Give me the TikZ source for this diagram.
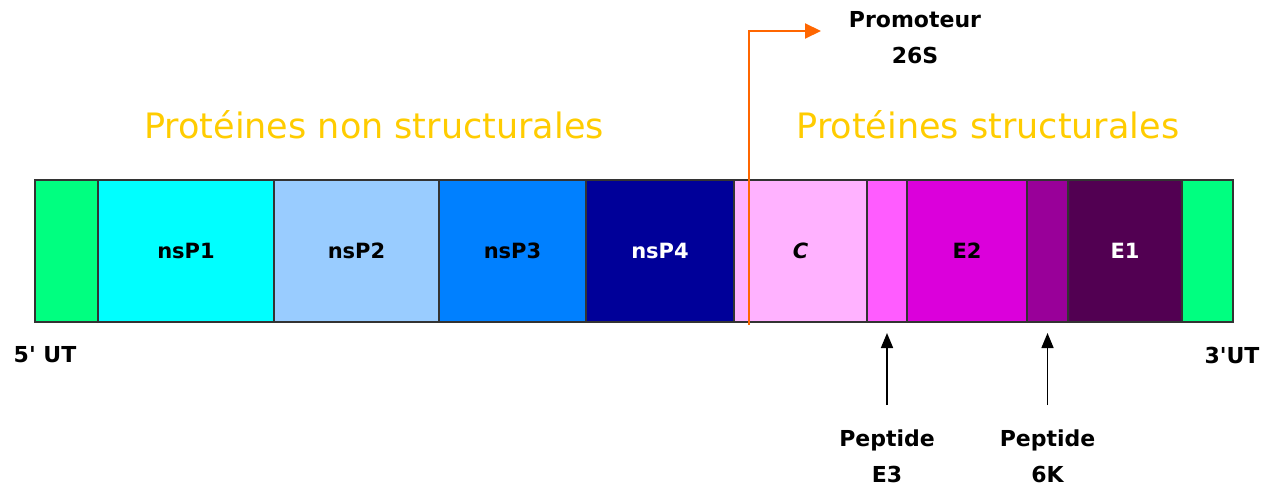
\documentclass[tikz,border=0pt]{standalone}
\usepackage{fontspec}
\setmainfont{DejaVu Sans}
\usetikzlibrary{positioning,arrows.meta}

\definecolor{utrgreen}{RGB}{0,255,128}
\definecolor{nsponecol}{RGB}{0,255,255}
\definecolor{nsptwocol}{RGB}{153,204,255}
\definecolor{nspthreecol}{RGB}{0,128,255}
\definecolor{nspfourcol}{RGB}{0,0,153}
\definecolor{capsidcol}{RGB}{255,178,255}
\definecolor{ethreecol}{RGB}{255,92,255}
\definecolor{etwocol}{RGB}{219,0,219}
\definecolor{sixkcol}{RGB}{153,0,153}
\definecolor{eonecol}{RGB}{82,0,82}
\definecolor{familycol}{RGB}{255,204,0}
\definecolor{promcol}{RGB}{255,102,0}

\begin{document}
\begin{tikzpicture}[x=1pt,y=-1pt,
   seg/.style={draw=black!80,line width=1.5pt,minimum height=142,
      inner sep=0pt,outer sep=0pt,
      font=\bfseries\fontsize{21}{24}\selectfont},
   family/.style={text=familycol,font=\fontsize{35}{40}\selectfont},
   tag/.style={font=\bfseries\fontsize{22}{36}\selectfont,align=center},
   pointer/.style={-{Triangle[length=15,width=12]},line width=1.6pt},
   promoter/.style={-{Triangle[length=16,width=15]},draw=promcol,
      line width=2pt}]

\useasboundingbox (0,0) rectangle (1277,495);

% genome bar
\node[seg,fill=utrgreen,minimum width=63,anchor=north west]
   (utr5) at (35,180) {};
\node[seg,fill=nsponecol,minimum width=176,right=0pt of utr5] (nsp1) {nsP1};
\node[seg,fill=nsptwocol,minimum width=165,right=0pt of nsp1] (nsp2) {nsP2};
\node[seg,fill=nspthreecol,minimum width=147,right=0pt of nsp2] (nsp3) {nsP3};
\node[seg,fill=nspfourcol,minimum width=148,text=white,right=0pt of nsp3]
   (nsp4) {nsP4};
\node[seg,fill=capsidcol,minimum width=133,right=0pt of nsp4]
   (capsid) {\itshape C};
\node[seg,fill=ethreecol,minimum width=40,right=0pt of capsid] (e3) {};
\node[seg,fill=etwocol,minimum width=120,right=0pt of e3] (e2) {E2};
\node[seg,fill=sixkcol,minimum width=41,right=0pt of e2] (sixk) {};
\node[seg,fill=eonecol,minimum width=114,text=white,right=0pt of sixk]
   (e1) {E1};
\node[seg,fill=utrgreen,minimum width=51,right=0pt of e1] (utr3) {};

% titles
\node[family] (nonstruct) at (374,125) {Protéines non structurales};
\node[family] (struct) at (988,125) {Protéines structurales};

% ends
\node[tag] (end5) at (45,355) {5\textquotesingle{} UT};
\node[tag] (end3) at (1232,355) {3\textquotesingle{}UT};

% promoter
\node[tag] (promtxt) at (915,38) {Promoteur\\26S};
\coordinate (promfoot) at (749,325);
\coordinate (promtip) at (821,31);
\draw[promoter] (promfoot) |- (promtip);

% cleavage peptides
\node[tag,anchor=north] (pepE3) at (e3.south |- 0,426) {Peptide\\E3};
\node[tag,anchor=north] (pep6K) at (sixk.south |- 0,426) {Peptide\\6K};
\draw[pointer,shorten <=21pt,shorten >=11pt] (pepE3.north) -- (e3.south);
\draw[pointer,shorten <=21pt,shorten >=11pt] (pep6K.north) -- (sixk.south);

\end{tikzpicture}
\end{document}
